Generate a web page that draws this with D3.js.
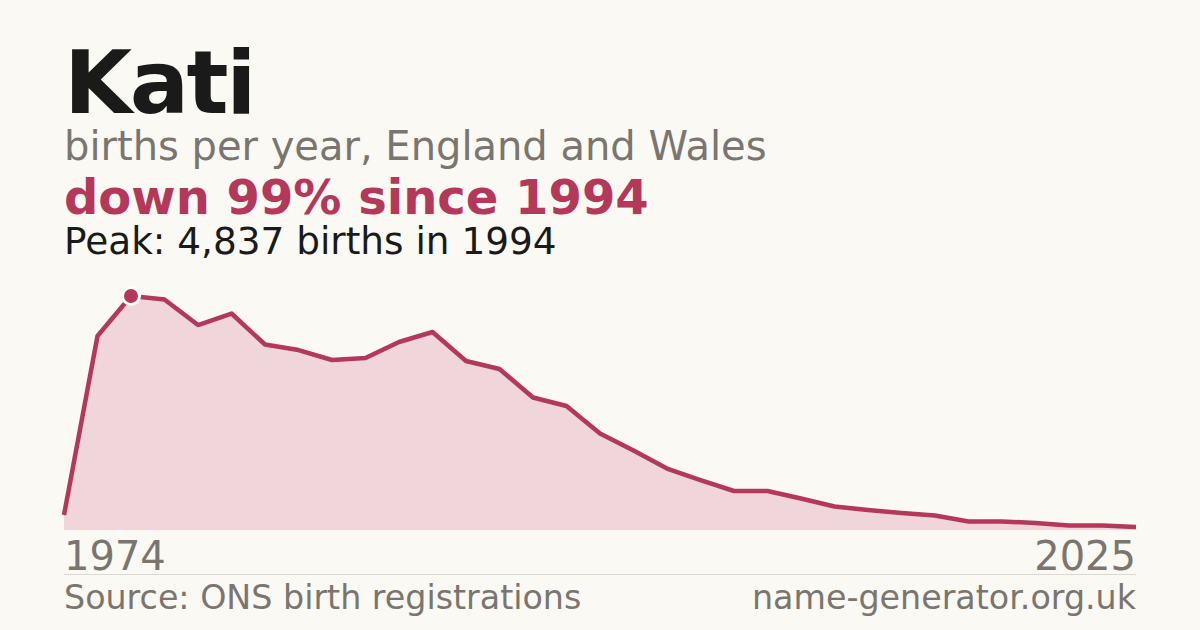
<!DOCTYPE html>
<html>
<head>
<meta charset="utf-8">
<script src="https://cdn.jsdelivr.net/npm/d3@7"></script>
<style>
  html, body { margin: 0; padding: 0; background: #faf9f4; }
  svg { display: block; font-family: "DejaVu Sans", sans-serif; }
</style>
</head>
<body>
<svg id="chart" width="1200" height="630"></svg>
<script>
// births per year for the name, ONS (gaps before 1996 are decade tables)
var years = [1974, 1984, 1994, 1996, 1997, 1998, 1999, 2000, 2001, 2002, 2003,
             2004, 2005, 2006, 2007, 2008, 2009, 2010, 2011, 2012, 2013, 2014,
             2015, 2016, 2017, 2018, 2019, 2020, 2021, 2022, 2023, 2024, 2025];
var births = [310, 4010, 4837, 4764, 4237, 4475, 3834, 3720, 3514, 3555, 3886,
              4093, 3493, 3328, 2739, 2563, 1995, 1643, 1271, 1033, 806, 806,
              651, 486, 413, 351, 300, 176, 176, 145, 93, 93, 62];
var tickLabels = ["1974", "2025"];

var W = 1200, H = 630;
var left = 64, right = 1136;
var crimson = "#b3385a", grey = "#7a756e";

var svg = d3.select("#chart");
svg.append("rect").attr("width", W).attr("height", H).attr("fill", "#faf9f4");

var data = years.map(function(y, i){ return {year: y, v: births[i]}; });

var x = d3.scalePoint().domain(years).range([left, right]);
var y = d3.scaleLinear().domain([0, d3.max(births)]).range([530, 296]);

// headings
svg.append("text").attr("x", left).attr("y", 113)
  .attr("font-size", 88).attr("font-weight", "bold").attr("fill", "#1a1a1a")
  .attr("letter-spacing", -2.5)
  .text("Kati");
svg.append("text").attr("x", left).attr("y", 160)
  .attr("font-size", 40).attr("fill", grey)
  .text("births per year, England and Wales");
svg.append("text").attr("x", left).attr("y", 214)
  .attr("font-size", 48).attr("font-weight", "bold").attr("fill", crimson)
  .text("down 99% since 1994");
svg.append("text").attr("x", left).attr("y", 254)
  .attr("font-size", 37.4).attr("fill", "#1a1a1a")
  .text("Peak: 4,837 births in 1994");

// area + line
var area = d3.area()
  .x(function(d){ return x(d.year); })
  .y0(y(0))
  .y1(function(d){ return y(d.v); });
var line = d3.line()
  .x(function(d){ return x(d.year); })
  .y(function(d){ return y(d.v); });

svg.append("path").datum(data).attr("d", area).attr("fill", "#f0d5db");
svg.append("path").datum(data).attr("d", line)
  .attr("fill", "none").attr("stroke", crimson).attr("stroke-width", 4.5)
  .attr("stroke-linejoin", "round");

// peak marker
var peak = data[d3.maxIndex(births)];
svg.append("circle").attr("cx", x(peak.year)).attr("cy", y(peak.v)).attr("r", 8.5)
  .attr("fill", crimson).attr("stroke", "#ffffff").attr("stroke-width", 3);

// x labels, first and last year only
svg.append("text").attr("x", x(years[0])).attr("y", 570)
  .attr("font-size", 40).attr("fill", grey).text(tickLabels[0]);
svg.append("text").attr("x", x(years[years.length - 1])).attr("y", 570)
  .attr("font-size", 40).attr("fill", grey).attr("text-anchor", "end")
  .text(tickLabels[1]);

// footer
svg.append("line").attr("x1", left).attr("x2", right).attr("y1", 574.5).attr("y2", 574.5)
  .attr("stroke", "#dcd9d2").attr("stroke-width", 1);
svg.append("text").attr("x", left).attr("y", 609)
  .attr("font-size", 33.3).attr("fill", grey).text("Source: ONS birth registrations");
svg.append("text").attr("x", right).attr("y", 609).attr("text-anchor", "end")
  .attr("font-size", 33.3).attr("fill", grey).text("name-generator.org.uk");
</script>
</body>
</html>
